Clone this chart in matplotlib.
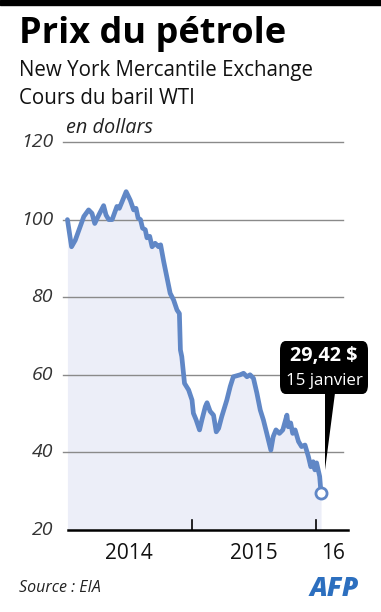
import numpy as np
import matplotlib
matplotlib.use("Agg")
import matplotlib.pyplot as plt
import matplotlib.dates as mdates
from matplotlib.patches import FancyBboxPatch, Polygon

# WTI price (USD per barrel)
dates = [
    "2014-01-02", "2014-01-14", "2014-01-25", "2014-02-19", "2014-03-05", "2014-03-15",
    "2014-03-23", "2014-04-04", "2014-04-18", "2014-04-25", "2014-05-03", "2014-05-13",
    "2014-05-27", "2014-06-03", "2014-06-11", "2014-06-23", "2014-07-05", "2014-07-15",
    "2014-07-22", "2014-07-28", "2014-08-04", "2014-08-10", "2014-08-18", "2014-08-23",
    "2014-08-31", "2014-09-07", "2014-09-16", "2014-09-26", "2014-10-02", "2014-10-11",
    "2014-10-21", "2014-10-30", "2014-11-09", "2014-11-19", "2014-11-26", "2014-11-29",
    "2014-12-03", "2014-12-11", "2014-12-23", "2015-01-02", "2015-01-06", "2015-01-14",
    "2015-01-24", "2015-01-31", "2015-02-10", "2015-02-15", "2015-02-24", "2015-03-06",
    "2015-03-14", "2015-03-21", "2015-03-30", "2015-04-14", "2015-04-24", "2015-05-03",
    "2015-05-23", "2015-06-02", "2015-06-12", "2015-06-21", "2015-07-01", "2015-07-11",
    "2015-07-21", "2015-07-30", "2015-08-09", "2015-08-21", "2015-08-28", "2015-09-05",
    "2015-09-15", "2015-09-25", "2015-10-07", "2015-10-11", "2015-10-18", "2015-10-24",
    "2015-10-31", "2015-11-10", "2015-11-19", "2015-11-29", "2015-12-09", "2015-12-16",
    "2015-12-23", "2015-12-28", "2016-01-02", "2016-01-11", "2016-01-15",
]
prices = [
    100.0, 93.0, 94.7, 100.8, 102.5, 101.6,
    99.0, 101.2, 103.6, 101.2, 100.0, 100.0,
    103.4, 102.9, 104.6, 107.2, 105.0, 102.5,
    102.9, 100.4, 100.0, 97.8, 97.4, 95.3,
    95.7, 93.0, 93.9, 93.0, 93.5, 89.2,
    84.9, 81.0, 79.3, 76.7, 75.8, 66.4,
    64.7, 57.8, 56.1, 53.5, 50.1, 48.4,
    45.8, 48.4, 51.8, 52.8, 50.6, 49.6,
    45.3, 46.2, 49.2, 53.5, 57.0, 59.5,
    60.0, 60.4, 59.5, 60.0, 59.1, 55.3,
    50.9, 48.4, 44.9, 40.6, 44.1, 45.8,
    44.9, 45.8, 49.6, 46.6, 47.6, 44.9,
    45.8, 42.8, 41.5, 41.9, 38.9, 36.3,
    37.6, 35.5, 37.3, 33.8, 29.42,
]
y_ticks = [20, 40, 60, 80, 100, 120]
year_labels = ["2014", "2015", "16"]
year_label_dates = ["2014-07-02", "2015-07-02", "2016-02-20"]
year_ticks = ["2015-01-01", "2016-01-01"]

line_col = "#6087c6"
fill_col = "#eceef8"
grid_col = "#8a8a8a"
plt.rcParams["font.family"] = ["Open Sans", "DejaVu Sans"]

x = mdates.datestr2num(dates)
fig = plt.figure(figsize=(3.81, 6.12), dpi=100)
W, H = 381, 612

# black band at the very top
fig.patches.append(plt.Rectangle((0, 1 - 5 / H), 1, 5 / H, transform=fig.transFigure,
                                 color="black", zorder=0))

ax = fig.add_axes([63 / W, 1 - 530 / H, 285 / W, 388 / H])
x0 = mdates.datestr2num("2013-12-20")
x1 = mdates.datestr2num("2016-04-03")
ax.set_xlim(x0, x1)
ax.set_ylim(20, 120)
for s in ax.spines.values():
    s.set_visible(False)
ax.set_xticks([])
ax.set_yticks([])

# gridlines + y labels
for v in y_ticks:
    if v > 20:
        ax.axhline(v, xmin=0, xmax=280 / 285, color=grid_col, lw=1.0, zorder=1, clip_on=False)
    ax.text(-10 / 285, v, str(v), transform=ax.get_yaxis_transform(), ha="right", va="center",
            fontsize=14, style="italic", color="#333333")
# baseline
ax.axhline(20, xmin=5 / 285, xmax=1, color="black", lw=1.8, zorder=4, clip_on=False)
for d in year_ticks:
    ax.plot([mdates.datestr2num(d)] * 2, [20, 22.6], color="black", lw=1.2, zorder=4)
for lbl, d in zip(year_labels, year_label_dates):
    ax.text(mdates.datestr2num(d), 14.0, lbl, ha="center", va="center", fontsize=15,
            color="#111111", clip_on=False)

ax.fill_between(x, prices, 20, color=fill_col, lw=0, zorder=0)
ax.plot(x, prices, color=line_col, lw=3.4, solid_joinstyle="round", solid_capstyle="round",
        zorder=3)
ax.plot(x[-1], prices[-1], "o", ms=8, mfc="white", mec=line_col, mew=2, zorder=5)

# callout
box = FancyBboxPatch((280 / W, 1 - 394 / H), 88 / W, 53 / H, transform=fig.transFigure,
                     boxstyle="round,pad=0,rounding_size=0.015", fc="black", ec="none",
                     zorder=6)
fig.patches.append(box)
fig.patches.append(Polygon([(325 / W, 1 - 393 / H), (335 / W, 1 - 393 / H), (325 / W, 1 - 470 / H)],
                           closed=True, transform=fig.transFigure, fc="black", ec="none",
                           zorder=6))
fig.text(324 / W, 1 - 356 / H, "29,42 $", ha="center", va="center", fontsize=14.3,
         fontweight="bold", color="white", zorder=7)
fig.text(324 / W, 1 - 381 / H, "15 janvier", ha="center", va="center", fontsize=12.2,
         color="white", zorder=7)

# titles
fig.text(19 / W, 1 - 43 / H, "Prix du pétrole", ha="left", va="baseline", fontsize=26,
         fontweight="bold", color="black")
fig.text(19 / W, 1 - 76 / H, "New York Mercantile Exchange", ha="left", va="baseline",
         fontsize=14.8, color="#111111")
fig.text(19 / W, 1 - 104 / H, "Cours du baril WTI", ha="left", va="baseline",
         fontsize=14.8, color="#111111")
fig.text(66 / W, 1 - 133 / H, "en dollars", ha="left", va="baseline", fontsize=14.3,
         style="italic", color="#222222")
fig.text(19 / W, 1 - 592 / H, "Source : EIA", ha="left", va="baseline", fontsize=11.5,
         style="italic", color="#222222")
fig.text(334 / W, 1 - 589 / H, "AFP", ha="center", va="center", fontsize=19,
         fontweight="heavy", style="italic", color="#2c6fbf")

fig.savefig("out.png", dpi=100)
